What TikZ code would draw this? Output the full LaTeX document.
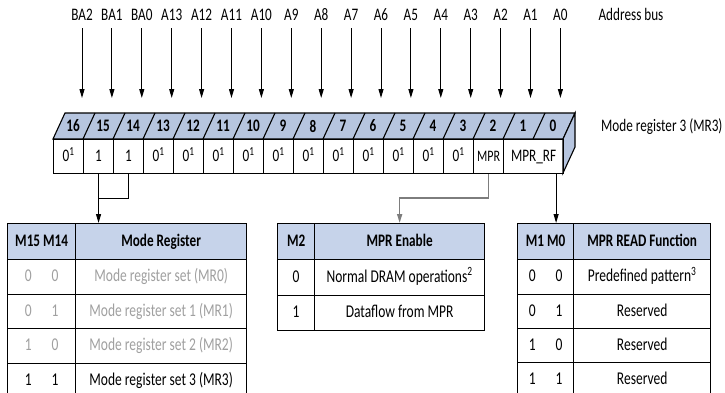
\documentclass[tikz,border=0pt]{standalone}
\usepackage{fontspec}
\setmainfont{Carlito}[FakeStretch=0.75]
\usetikzlibrary{arrows.meta,calc}
\definecolor{regblue}{RGB}{182,197,223}
\definecolor{tabblue}{RGB}{198,211,234}
\definecolor{graytxt}{RGB}{160,160,160}
\definecolor{conngray}{RGB}{125,125,125}
\newcommand{\bitpair}[2]{#1\hspace{20pt}#2}
\begin{document}
\begin{tikzpicture}[x=1pt,y=-1pt,
  lbl/.style={inner sep=2pt, font=\fontsize{17.6}{20}\selectfont, text height=12pt, text depth=2pt},
  arr/.style={-{Triangle[length=9pt,width=5pt]}, line width=1pt},
  regcell/.style={draw, line width=1.1pt, inner sep=0pt, anchor=north west, minimum height=34pt,
    font=\fontsize{17.6}{20}\selectfont, text height=12pt, text depth=2pt},
  hnum/.style={font=\fontsize{17.6}{20}\bfseries\selectfont, inner sep=0pt},
  tcell/.style={draw, line width=1.3pt, inner sep=0pt, anchor=north west,
    font=\fontsize{18}{21}\selectfont, text height=12pt, text depth=3pt},
  hdr/.style={fill=tabblue, font=\fontsize{17.6}{20}\bfseries\selectfont},
  gtxt/.style={text=graytxt}]
\useasboundingbox (0,0) rectangle (725,392);
\fill[white] (0,0) rectangle (725,392);
\begin{scope}
\clip (0,0) rectangle (725,392);

% address bus labels and arrows
\foreach \i/\t in {0/BA2,1/BA1,2/BA0,3/A13,4/A12,5/A11,6/A10,7/A9,8/A8,9/A7,10/A6,11/A5,12/A4,13/A3,14/A2,15/A1,16/A0}{
  \node[lbl] (L\i) at ({82+29.9*\i},15) {\t};
  \coordinate (T\i) at ({82+29.9*\i},98);
  \draw[arr, shorten <=4pt] (L\i.south) -- (T\i);
}
\node[lbl] (abus) at (631,15) {Address bus};

% register header (3D box)
\draw[fill=regblue, line width=1.1pt] (53,139) -- (65,113) -- (575,113) -- (563,139) -- cycle;
\draw[fill=regblue, line width=1.1pt] (563,139) -- (575,113) -- (575,147) -- (563,173) -- cycle;
\foreach \i in {1,...,16}{ \draw[line width=1.1pt] ({53+30*\i},139) -- ({65+30*\i},113); }
\foreach \i/\n in {0/16,1/15,2/14,3/13,4/12,5/11,6/10,7/9,8/8,9/7,10/6,11/5,12/4,13/3,14/2,15/1,16/0}{
  \node[hnum] (H\n) at ({53+30*\i+20},126) {\n};
}

% register cells
\node[regcell, minimum width=30pt] (c16) at (53,139) {0\textsuperscript{1}};
\node[regcell, minimum width=30pt] (c15) at (83,139) {1};
\node[regcell, minimum width=30pt] (c14) at (113,139) {1};
\foreach \b in {13,...,3}{
  \node[regcell, minimum width=30pt] (c\b) at ({53+30*(16-\b)},139) {0\textsuperscript{1}};
}
\node[regcell, minimum width=30pt, font=\fontsize{16}{18}\selectfont] (cmpr) at (473,139) {MPR};
\node[regcell, minimum width=60pt] (crf) at (503,139) {MPR\_RF};
\node[lbl, anchor=west] (mr3) at (599,126) {Mode register 3 (MR3)};

% left table
\node[tcell, hdr, minimum width=68pt, minimum height=36pt] (lh1) at (7,223) {M15 M14};
\node[tcell, hdr, minimum width=171pt, minimum height=36pt] (lh2) at (75,223) {Mode Register};
\node[tcell, gtxt, minimum width=68pt, minimum height=35pt] (la1) at (7,259) {\bitpair00};
\node[tcell, gtxt, minimum width=171pt, minimum height=35pt] (lb1) at (75,259) {Mode register set (MR0)};
\node[tcell, gtxt, minimum width=68pt, minimum height=34pt] (la2) at (7,294) {\bitpair01};
\node[tcell, gtxt, minimum width=171pt, minimum height=34pt] (lb2) at (75,294) {Mode register set 1 (MR1)};
\node[tcell, gtxt, minimum width=68pt, minimum height=35pt] (la3) at (7,328) {\bitpair10};
\node[tcell, gtxt, minimum width=171pt, minimum height=35pt] (lb3) at (75,328) {Mode register set 2 (MR2)};
\node[tcell, minimum width=68pt, minimum height=35pt] (la4) at (7,363) {\bitpair11};
\node[tcell, minimum width=171pt, minimum height=35pt] (lb4) at (75,363) {Mode register set 3 (MR3)};

% middle table
\node[tcell, hdr, minimum width=37pt, minimum height=36pt] (mh1) at (277,223) {M2};
\node[tcell, hdr, minimum width=170pt, minimum height=36pt] (mh2) at (314,223) {MPR Enable};
\node[tcell, minimum width=37pt, minimum height=36pt] (ma1) at (277,259) {0};
\node[tcell, minimum width=170pt, minimum height=36pt] (mb1) at (314,259) {Normal DRAM operations\textsuperscript{2}};
\node[tcell, minimum width=37pt, minimum height=35pt] (ma2) at (277,295) {1};
\node[tcell, minimum width=170pt, minimum height=35pt] (mb2) at (314,295) {Dataflow from MPR};

% right table
\node[tcell, hdr, minimum width=56pt, minimum height=36pt] (rh1) at (517,223) {M1 M0};
\node[tcell, hdr, minimum width=137pt, minimum height=36pt] (rh2) at (573,223) {MPR READ Function};
\node[tcell, minimum width=56pt, minimum height=35pt] (ra1) at (517,259) {\bitpair00};
\node[tcell, minimum width=137pt, minimum height=35pt] (rb1) at (573,259) {Predefined pattern\textsuperscript{3}};
\node[tcell, minimum width=56pt, minimum height=34pt] (ra2) at (517,294) {\bitpair01};
\node[tcell, minimum width=137pt, minimum height=34pt] (rb2) at (573,294) {Reserved};
\node[tcell, minimum width=56pt, minimum height=34pt] (ra3) at (517,328) {\bitpair10};
\node[tcell, minimum width=137pt, minimum height=34pt] (rb3) at (573,328) {Reserved};
\node[tcell, minimum width=56pt, minimum height=35pt] (ra4) at (517,362) {\bitpair11};
\node[tcell, minimum width=137pt, minimum height=35pt] (rb4) at (573,362) {Reserved};

% connectors
\coordinate (j1) at ($(c15.south)+(0,24)$);
\draw[line width=1.1pt] (c14.south) |- (j1);
\draw[arr] (c15.south) -- (c15.south |- lh2.north);
\draw[arr, draw=conngray, line width=1.6pt] (cmpr.south) -- ++(0,24) -| (mh2.north);
\coordinate (rfout) at ($(crf.south east)+(-8,0)$);
\draw[arr] (rfout) -- (rfout |- rh1.north);
\end{scope}
\end{tikzpicture}
\end{document}
